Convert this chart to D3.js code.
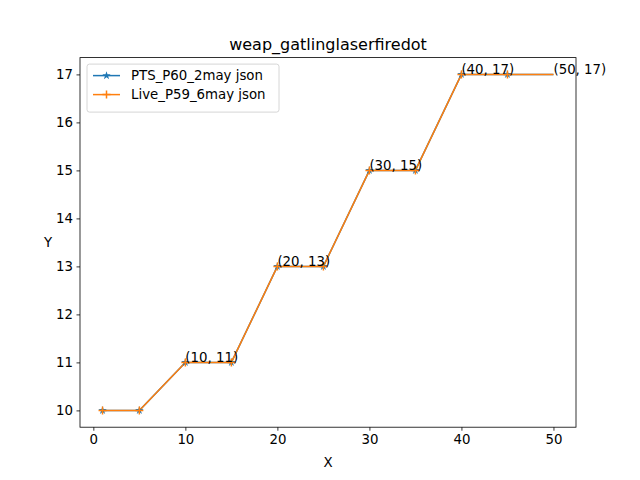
<!DOCTYPE html>
<html>
<head>
<meta charset="utf-8">
<script src="https://cdn.jsdelivr.net/npm/d3@7"></script>
<style>
  body { margin: 0; background: #fff; }
  text { font-family: "DejaVu Sans", sans-serif; }
</style>
</head>
<body>
<div id="chart"></div>
<script>
// data
var xs = [1, 5, 10, 15, 20, 25, 30, 35, 40, 45, 50];
var ptsY = [10, 10, 11, 11, 13, 13, 15, 15, 17, 17, 17];
var liveY = [10, 10, 11, 11, 13, 13, 15, 15, 17, 17, 17];
var seriesNames = ["PTS_P60_2may json", "Live_P59_6may json"];
var xTicks = [0, 10, 20, 30, 40, 50];
var yTicks = [10, 11, 12, 13, 14, 15, 16, 17];
var labelXs = [10, 20, 30, 40, 50];
var markerCount = 10; // last point has no marker

var width = 640, height = 480;
var margin = { top: 57.6, left: 80, right: 64, bottom: 52.8 };
var w = width - margin.left - margin.right,
    h = height - margin.top - margin.bottom;

var svg = d3.select("#chart").append("svg")
  .attr("width", width).attr("height", height);

var g = svg.append("g")
  .attr("transform", "translate(" + margin.left + "," + margin.top + ")");

var xScale = d3.scaleLinear().domain([-1.45, 52.45]).range([0, w]);
var yScale = d3.scaleLinear().domain([9.65, 17.35]).range([h, 0]);

var colors = ["#1f77b4", "#ff7f0e"];

function pts(ys) {
  return xs.map(function(x, i) { return { x: x, y: ys[i] }; });
}
var series = [pts(ptsY), pts(liveY)];

var line = d3.line()
  .x(function(d) { return xScale(d.x); })
  .y(function(d) { return yScale(d.y); });

// lines
series.forEach(function(s, i) {
  g.append("path")
    .datum(s)
    .attr("d", line)
    .attr("fill", "none")
    .attr("stroke", colors[i])
    .attr("stroke-width", 1.5)
    .attr("stroke-linejoin", "round");
});

// blue star markers
var star = d3.symbol().type(d3.symbolStar).size(22);
g.selectAll(".star")
  .data(series[0].slice(0, markerCount))
  .enter().append("path")
  .attr("class", "star")
  .attr("d", star)
  .attr("transform", function(d) {
    return "translate(" + xScale(d.x) + "," + yScale(d.y) + ")";
  })
  .attr("fill", colors[0]);

// orange plus markers
function plusPath(r) {
  return "M" + (-r) + ",0H" + r + "M0," + (-r) + "V" + r;
}
g.selectAll(".plus")
  .data(series[1].slice(0, markerCount))
  .enter().append("path")
  .attr("class", "plus")
  .attr("d", plusPath(4))
  .attr("transform", function(d) {
    return "translate(" + xScale(d.x) + "," + yScale(d.y) + ")";
  })
  .attr("stroke", colors[1])
  .attr("stroke-width", 1.5)
  .attr("fill", "none");

// point labels
g.selectAll(".lbl")
  .data(series[1].filter(function(d) { return labelXs.indexOf(d.x) >= 0; }))
  .enter().append("text")
  .attr("class", "lbl")
  .attr("x", function(d) { return xScale(d.x); })
  .attr("y", function(d) { return yScale(d.y); })
  .attr("font-size", "13.33px")
  .attr("fill", "#000")
  .text(function(d) { return "(" + d.x + ", " + d.y + ")"; });

// axes
var xAxis = d3.axisBottom(xScale).tickValues(xTicks).tickSize(3.5).tickPadding(3.5);
var yAxis = d3.axisLeft(yScale).tickValues(yTicks).tickSize(3.5).tickPadding(3.5);

var gx = g.append("g").attr("transform", "translate(0," + h + ")").call(xAxis);
var gy = g.append("g").call(yAxis);
[gx, gy].forEach(function(a) {
  a.select(".domain").remove();
  a.selectAll("text").attr("font-size", "13.33px").attr("font-family", "DejaVu Sans").attr("fill", "#000");
  a.selectAll("line").attr("stroke", "#000").attr("stroke-width", 0.8);
});

// frame
g.append("rect")
  .attr("width", w).attr("height", h)
  .attr("fill", "none").attr("stroke", "#000").attr("stroke-width", 0.8);

// title and axis labels
svg.append("text")
  .attr("x", margin.left + w / 2).attr("y", margin.top - 8)
  .attr("text-anchor", "middle").attr("font-size", "16px")
  .text("weap_gatlinglaserfiredot");

svg.append("text")
  .attr("x", margin.left + w / 2).attr("y", 467)
  .attr("text-anchor", "middle").attr("font-size", "13.33px")
  .text("X");

svg.append("text")
  .attr("x", 48).attr("y", margin.top + h / 2 + 5)
  .attr("text-anchor", "middle").attr("font-size", "13.33px")
  .text("Y");

// legend
var lg = g.append("g").attr("transform", "translate(7,6.5)");
lg.append("rect")
  .attr("width", 192).attr("height", 48)
  .attr("rx", 2.5)
  .attr("fill", "#fff").attr("fill-opacity", 0.8)
  .attr("stroke", "#ccc").attr("stroke-width", 0.8);

seriesNames.forEach(function(name, i) {
  var yy = 11.5 + i * 19;
  var item = lg.append("g").attr("transform", "translate(0," + yy + ")");
  item.append("line")
    .attr("x1", 6).attr("x2", 33)
    .attr("stroke", colors[i]).attr("stroke-width", 1.5);
  if (i === 0) {
    item.append("path").attr("d", star).attr("transform", "translate(19.5,0)").attr("fill", colors[0]);
  } else {
    item.append("path").attr("d", plusPath(4)).attr("transform", "translate(19.5,0)")
      .attr("stroke", colors[1]).attr("stroke-width", 1.5);
  }
  item.append("text")
    .attr("x", 44).attr("y", 4.8)
    .attr("font-size", "13.33px")
    .text(name);
});
</script>
</body>
</html>
